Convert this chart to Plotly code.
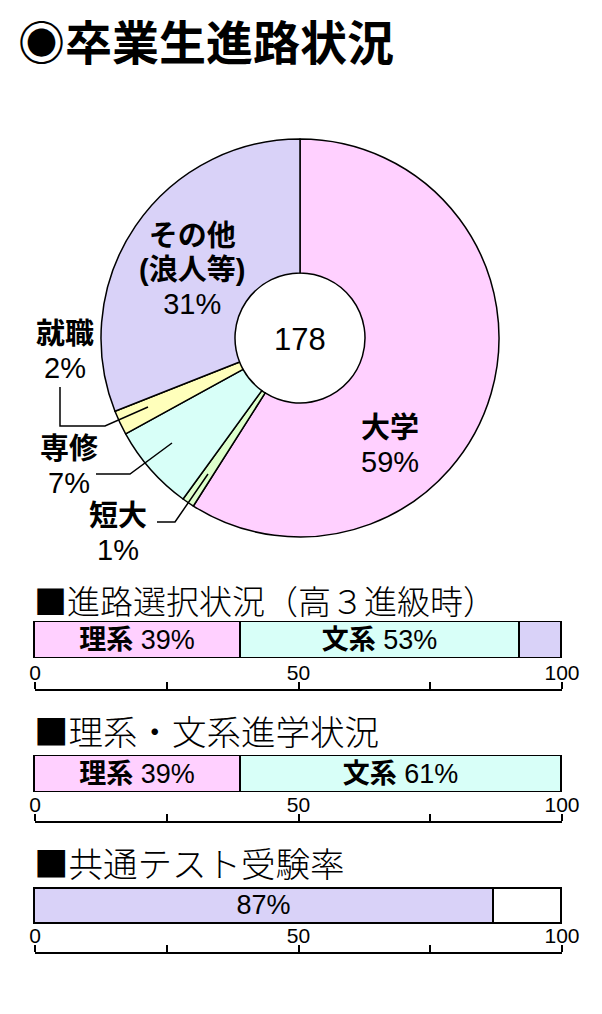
import plotly.graph_objects as go

W, H = 602, 1014
CJK = "Noto Sans CJK JP"
MIX = "Liberation Sans, Noto Sans CJK JP"
TICKF = "Liberation Sans Narrow, Liberation Sans"

# ---- data ----
pie_labels = ["大学", "短大", "専修", "就職", "その他"]
pie_values = [59, 1, 7, 2, 31]
pie_colors = ["#FFD0FF", "#DDFFCC", "#D8FFF8", "#FFFFBB", "#D9D2F8"]
total_students = 178

choice_labels = ["理系", "文系", "その他"]
choice_values = [39, 53, 8]
choice_colors = ["#FFD0FF", "#D8FFF8", "#D9D2F8"]

advance_labels = ["理系", "文系"]
advance_values = [39, 61]
advance_colors = ["#FFD0FF", "#D8FFF8"]

test_labels = ["受験", "未受験"]
test_values = [87, 13]
test_colors = ["#D9D2F8", "#FFFFFF"]

tick_vals = [0, 25, 50, 75, 100]
tick_text = ["0", "", "50", "", "100"]


def px(x):
    return x / W


def py(y):
    return 1 - y / H


fig = go.Figure()

# ---- donut ----
fig.add_trace(go.Pie(
    labels=pie_labels, values=pie_values, sort=False, direction="clockwise",
    rotation=0, hole=65 / 199, textinfo="none", hoverinfo="label+percent",
    marker=dict(colors=pie_colors, line=dict(color="black", width=1.5)),
    domain=dict(x=[px(101), px(499)], y=[py(537), py(139)]),
    showlegend=False,
))

# ---- bar charts ----
X0, X1 = 35, 562          # pixel span of 0..100
UNIT = (X1 - X0) / 100.0
PADU = 1.0                # data-unit padding so outlines are not clipped

bar_sets = [
    (choice_labels, choice_values, choice_colors, True, (622, 658), 690, "2", "5"),
    (advance_labels, advance_values, advance_colors, True, (756, 792), 822, "3", "6"),
    (test_labels, test_values, test_colors, False, (888, 923), 953, "4", "7"),
]

for labels, values, colors, named, (ytop, ybot), axis_y, n, m in bar_sets:
    for i, (lab, val, col) in enumerate(zip(labels, values, colors)):
        if named:
            txt = f"<b>{lab}</b> {val}%" if lab != "その他" else ""
        else:
            txt = f"{val}%" if i == 0 else ""
        fig.add_trace(go.Bar(
            x=[val], y=[0], orientation="h", width=1,
            marker=dict(color=col, line=dict(color="black", width=1.5)),
            text=[txt], textposition="inside", insidetextanchor="middle",
            textangle=0, constraintext="none", cliponaxis=False,
            textfont=dict(family=MIX, size=27, color="black"),
            xaxis="x" + n, yaxis="y" + n, showlegend=False, name=lab,
        ))
    yc = (ytop + ybot) / 2.0
    half = (ybot - ytop) * 0.6
    fig.layout["xaxis" + n] = dict(
        domain=[px(X0 - PADU * UNIT), px(X1 + PADU * UNIT)],
        range=[-PADU, 100 + PADU], visible=False, anchor="y" + n,
        fixedrange=True, automargin=False,
    )
    fig.layout["yaxis" + n] = dict(
        domain=[py(yc + half), py(yc - half)], range=[-0.6, 0.6],
        visible=False, anchor="x" + n, fixedrange=True, automargin=False,
    )
    # scale axis (0..100) drawn below each bar
    fig.add_trace(go.Scatter(
        x=[tick_vals[0], tick_vals[-1]], y=[0, 0], mode="markers",
        marker=dict(opacity=0, size=1), hoverinfo="skip",
        xaxis="x" + m, yaxis="y" + m, showlegend=False,
    ))
    fig.layout["xaxis" + m] = dict(
        domain=[px(X0), px(X1)], range=[0, 100], anchor="free",
        position=py(axis_y), side="top", showline=True, linecolor="black",
        linewidth=1.5, ticks="outside", ticklen=7, tickwidth=1.5,
        tickcolor="black", tickvals=tick_vals, ticktext=tick_text,
        showgrid=False, zeroline=False, fixedrange=True, automargin=False,
        ticklabelstandoff=-6,
        tickfont=dict(family=TICKF, size=21, color="black"),
    )
    fig.layout["yaxis" + m] = dict(
        domain=[py(axis_y + 5), py(axis_y)], range=[-1, 1], visible=False,
        anchor="x" + m, fixedrange=True, automargin=False,
    )

annotations = []


def add_text(text, x, y, size, family=MIX, weight="normal", anchor="center"):
    annotations.append(dict(
        text=text, x=px(x), y=py(y), xref="paper", yref="paper",
        xanchor=anchor, yanchor="middle", showarrow=False, align="center",
        font=dict(family=family, size=size, color="black", weight=weight),
    ))


def big(s, size=29):
    return f'<span style="font-size:{size}px">{s}</span>'


# titles
add_text("◉卒業生進路状況", 16, 40, 47, family=CJK, weight="bold", anchor="left")
add_text("■進路選択状況（高３進級時）", 32, 600, 33, family=CJK, weight=300, anchor="left")
add_text("■理系・文系進学状況", 32, 730, 34.5, family=CJK, weight=300, anchor="left")
add_text("■共通テスト受験率", 32, 862, 34.5, family=CJK, weight=300, anchor="left")

# donut labels
add_text(str(total_students), 300, 339, 31)
add_text(f"<b>{big(pie_labels[0])}</b><br>{big(str(pie_values[0]) + '%')}", 390, 445, 26)
add_text(f"<b>{big(pie_labels[4])}</b><br><b>{big('(浪人等)')}</b><br>{big(str(pie_values[4]) + '%')}",
         192, 270, 26)
add_text(f"<b>{big(pie_labels[3])}</b><br>{big(str(pie_values[3]) + '%')}", 65, 351, 26)
add_text(f"<b>{big(pie_labels[2])}</b><br>{big(str(pie_values[2]) + '%')}", 69, 466, 26)
add_text(f"<b>{big(pie_labels[1])}</b><br>{big(str(pie_values[1]) + '%')}", 118, 533, 26)

fig.update_layout(annotations=annotations)


def path(points):
    return "M " + " L ".join(f"{px(x)},{py(y)}" for x, y in points)


leaders = [
    [(60, 387), (60, 426), (105, 426), (148, 407)],
    [(96, 474), (130, 474), (172, 443)],
    [(157, 522), (175, 522), (208, 474)],
]
fig.update_layout(shapes=[
    dict(type="path", path=path(p), xref="paper", yref="paper",
         line=dict(color="black", width=1.5))
    for p in leaders
])

fig.update_layout(
    width=W, height=H, autosize=False, margin=dict(l=0, r=0, t=0, b=0, pad=0),
    paper_bgcolor="white", plot_bgcolor="white",
    barmode="stack", bargap=0, showlegend=False,
    font=dict(family=CJK),
)

fig.write_html("out.html", config={"displayModeBar": False, "responsive": False})
